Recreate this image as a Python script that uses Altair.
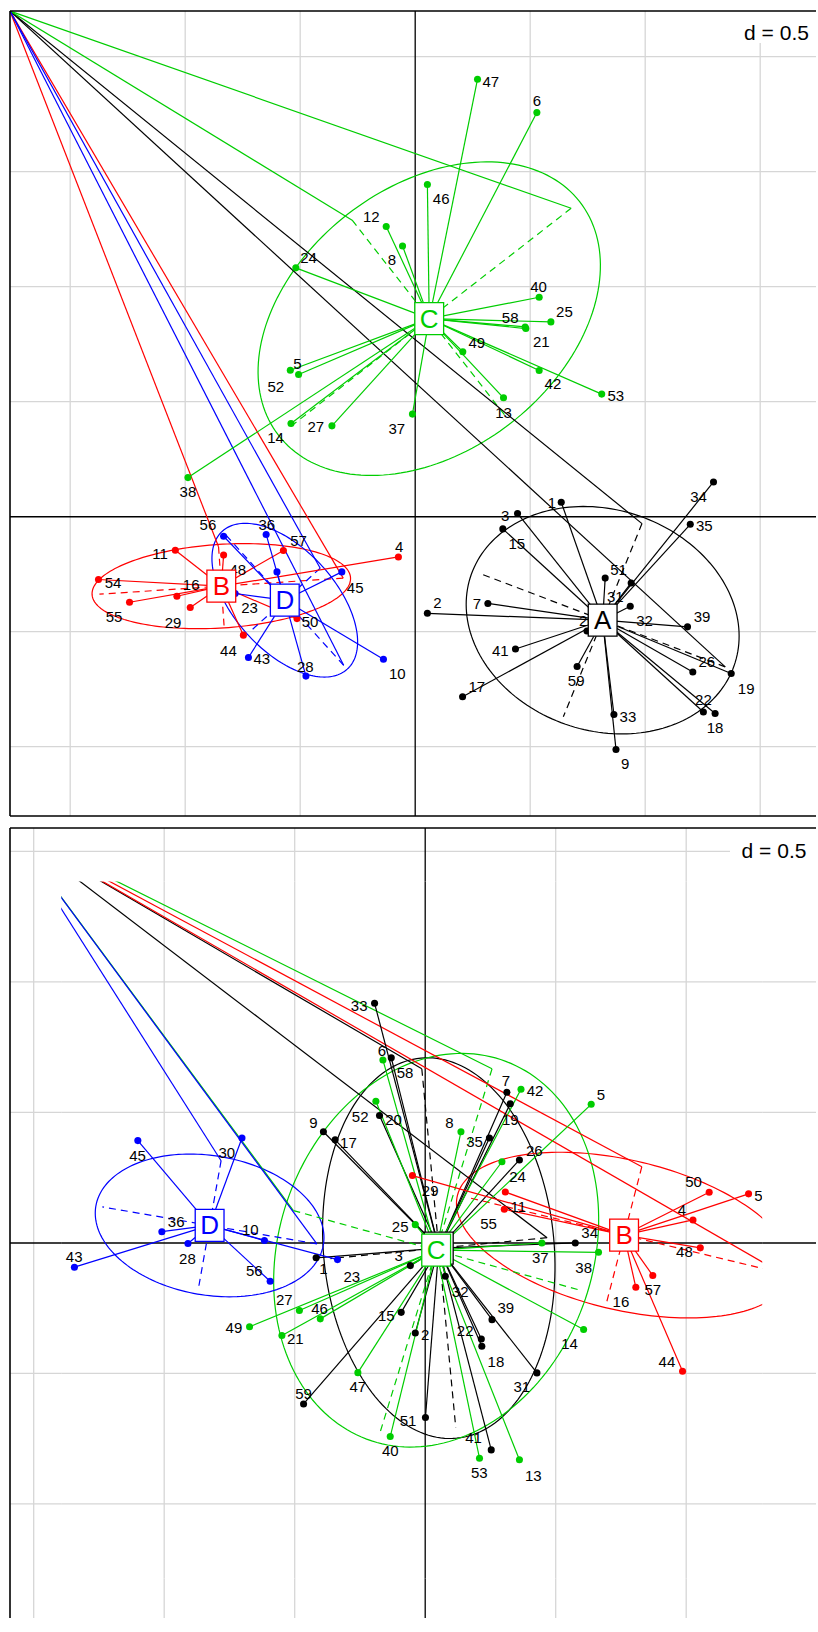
import numpy as np
import pandas as pd
import altair as alt

GROUPS = ["A", "B", "C", "D"]
GROUP_COLORS = ["#000000", "#FF0000", "#00CD00", "#0000FF"]
FONT = "Liberation Sans"
ELLIPSE_SCALE = 1.06
BOX_SHAPE = "M-0.9,-1H0.9V1H-0.9Z"
GRID_COLOR = "#D6D6D6"

# ---------------- upper map ----------------
up_ids = ["47", "6", "46", "12", "8", "24", "40", "25", "58", "21", "49", "42", "53", "13", "5", "52", "14", "27", "37", "38",
          "34", "35", "1", "3", "15", "51", "31", "32", "20", "39", "26", "19", "22", "18", "33", "9", "59", "41", "17", "7", "2",
          "11", "54", "55", "16", "29", "48", "57", "4", "50", "44",
          "56", "36", "30", "45", "10", "28", "43", "23"]
up_group = ["C"] * 20 + ["A"] * 21 + ["B"] * 10 + ["D"] * 8
up_x = [0.271, 0.529, 0.053, -0.126, -0.055, -0.519, 0.539, 0.590, 0.478, 0.481, 0.207, 0.539, 0.811, 0.384, -0.543, -0.507, -0.540, -0.362, -0.012, -0.988,
        1.297, 1.196, 0.635, 0.445, 0.381, 0.826, 0.939, 0.935, 0.747, 1.184, 1.207, 1.374, 1.253, 1.304, 0.864, 0.873, 0.704, 0.436, 0.206, 0.316, 0.053,
        -1.043, -1.377, -1.242, -1.036, -0.978, -0.833, -0.573, -0.073, -0.514, -0.747,
        -0.833, -0.648, -0.601, -0.319, -0.138, -0.475, -0.725, -0.783]
up_y = [1.902, 1.757, 1.444, 1.262, 1.177, 1.082, 0.954, 0.847, 0.825, 0.818, 0.717, 0.636, 0.533, 0.517, 0.637, 0.618, 0.405, 0.395, 0.446, 0.170,
        0.151, -0.033, 0.063, 0.014, -0.053, -0.267, -0.288, -0.389, -0.497, -0.479, -0.675, -0.682, -0.849, -0.856, -0.860, -1.012, -0.651, -0.575, -0.783, -0.377, -0.420,
        -0.146, -0.273, -0.372, -0.346, -0.395, -0.167, -0.147, -0.175, -0.443, -0.515,
        -0.085, -0.077, -0.240, -0.240, -0.620, -0.693, -0.612, -0.334]
up_lab_x = [0.329, 0.529, 0.113, -0.191, -0.101, -0.464, 0.536, 0.649, 0.413, 0.548, 0.268, 0.599, 0.872, 0.384, -0.512, -0.606, -0.607, -0.432, -0.080, -0.988,
            1.232, 1.257, 0.594, 0.391, 0.442, 0.884, 0.870, 0.997, 0.748, 1.247, 1.268, 1.439, 1.253, 1.304, 0.925, 0.913, 0.700, 0.370, 0.268, 0.268, 0.097,
            -1.109, -1.314, -1.309, -0.974, -1.053, -0.771, -0.507, -0.070, -0.457, -0.812,
            -0.901, -0.645, -0.561, -0.261, -0.078, -0.478, -0.667, -0.720]
up_lab_y = [1.890, 1.808, 1.383, 1.303, 1.115, 1.123, 0.998, 0.888, 0.864, 0.760, 0.757, 0.575, 0.525, 0.453, 0.663, 0.564, 0.344, 0.388, 0.380, 0.108,
            0.086, -0.041, 0.060, 0.002, -0.120, -0.230, -0.349, -0.453, -0.454, -0.436, -0.631, -0.747, -0.798, -0.917, -0.873, -1.076, -0.714, -0.586, -0.740, -0.380, -0.377,
            -0.163, -0.290, -0.436, -0.298, -0.462, -0.230, -0.105, -0.131, -0.457, -0.583,
            -0.037, -0.034, -0.328, -0.308, -0.682, -0.653, -0.620, -0.397]
up_center = {"A": (0.815, -0.450), "B": (-0.843, -0.302), "C": (0.061, 0.861), "D": (-0.567, -0.363)}
up_axis1 = {"A": (1.348, -0.653), "B": (-0.313, -0.267), "C": (0.678, 1.341), "D": (-0.311, -0.646)}
up_axis2 = {"A": (0.986, -0.030), "B": (-0.855, -0.131), "C": (-0.274, 1.289), "D": (-0.413, -0.224)}

# ---------------- lower map ----------------
lo_ids = ["33", "58", "20", "9", "17", "7", "19", "35", "26", "34", "1", "3", "15", "2", "59", "51", "41", "22", "18", "39", "31", "32",
          "6", "52", "8", "42", "5", "24", "25", "37", "38", "14", "13", "53", "40", "47", "21", "46", "27", "49",
          "50", "54", "4", "48", "57", "16", "44", "29", "55", "11",
          "45", "30", "36", "28", "10", "56", "43", "23"]
lo_group = ["A"] * 22 + ["C"] * 18 + ["B"] * 10 + ["D"] * 8
lo_x = [-0.194, -0.130, -0.175, -0.390, -0.345, 0.313, 0.326, 0.246, 0.361, 0.575, -0.418, -0.057, -0.092, -0.038, -0.466, 0.001, 0.253, 0.215, 0.217, 0.256, 0.428, 0.077,
        -0.162, -0.189, 0.137, 0.367, 0.636, 0.294, -0.038, 0.447, 0.664, 0.607, 0.361, 0.208, -0.134, -0.258, -0.549, -0.402, -0.482, -0.673,
        1.088, 1.239, 1.026, 1.054, 0.872, 0.807, 0.986, -0.049, 0.307, 0.303,
        -1.101, -0.702, -1.009, -0.909, -0.616, -0.594, -1.344, -0.336]
lo_y = [0.918, 0.709, 0.488, 0.426, 0.395, 0.577, 0.533, 0.402, 0.318, 0.000, -0.057, -0.087, -0.266, -0.345, -0.617, -0.669, -0.793, -0.368, -0.396, -0.294, -0.498, -0.128,
        0.701, 0.543, 0.426, 0.589, 0.531, 0.311, 0.070, 0.000, -0.036, -0.332, -0.831, -0.825, -0.742, -0.497, -0.355, -0.291, -0.259, -0.321,
        0.194, 0.188, 0.088, -0.019, -0.125, -0.170, -0.492, 0.258, 0.195, 0.129,
        0.392, 0.402, 0.043, -0.002, 0.009, -0.147, -0.093, -0.064]
lo_lab_x = [-0.253, -0.077, -0.121, -0.428, -0.294, 0.309, 0.326, 0.189, 0.418, 0.630, -0.390, -0.102, -0.149, 0.000, -0.466, -0.066, 0.185, 0.153, 0.271, 0.309, 0.370, 0.134,
            -0.166, -0.249, 0.093, 0.421, 0.673, 0.354, -0.096, 0.441, 0.607, 0.553, 0.414, 0.207, -0.134, -0.258, -0.498, -0.405, -0.540, -0.733,
            1.028, 1.293, 0.984, 0.993, 0.872, 0.750, 0.926, 0.019, 0.243, 0.357,
            -1.102, -0.760, -0.954, -0.911, -0.670, -0.655, -1.345, -0.281]
lo_lab_y = [0.909, 0.651, 0.471, 0.458, 0.383, 0.619, 0.471, 0.388, 0.354, 0.037, -0.100, -0.049, -0.279, -0.352, -0.579, -0.684, -0.749, -0.336, -0.455, -0.249, -0.553, -0.189,
            0.737, 0.484, 0.460, 0.581, 0.568, 0.251, 0.060, -0.057, -0.097, -0.387, -0.892, -0.883, -0.796, -0.553, -0.368, -0.253, -0.218, -0.326,
            0.232, 0.181, 0.126, -0.036, -0.180, -0.228, -0.456, 0.200, 0.073, 0.136,
            0.334, 0.343, 0.082, -0.061, 0.050, -0.109, -0.055, -0.129]
lo_center = {"A": (0.052, -0.020), "B": (0.762, 0.030), "C": (0.042, -0.028), "D": (-0.826, 0.067)}
lo_axis1 = {"A": (0.467, 0.020), "B": (1.364, -0.115), "C": (0.256, 0.667), "D": (-0.415, -0.004)}
lo_axis2 = {"A": (-0.013, 0.667), "B": (0.830, 0.292), "C": (-0.505, 0.124), "D": (-0.782, 0.315)}

GRID_STEPS = [-1.5, -1.0, -0.5, 0.5, 1.0, 1.5, 2.0]

for seq in (up_group, up_x, up_y, up_lab_x, up_lab_y):
    assert len(seq) == len(up_ids)
for seq in (lo_group, lo_x, lo_y, lo_lab_x, lo_lab_y):
    assert len(seq) == len(lo_ids)


def outside_parts(values, vertical, span, inner):
    """Pieces of grid lines that lie outside the inner data window."""
    ix0, ix1, iyb, iyt = inner
    rows = []
    for v in values:
        if vertical:
            if v <= ix0 or v >= ix1:
                rows.append({"x": v, "y": span[0], "x2": v, "y2": span[1]})
            else:
                rows.append({"x": v, "y": span[0], "x2": v, "y2": iyb})
                rows.append({"x": v, "y": iyt, "x2": v, "y2": span[1]})
        else:
            if v <= iyb or v >= iyt:
                rows.append({"x": span[0], "y": v, "x2": span[1], "y2": v})
            else:
                rows.append({"x": span[0], "y": v, "x2": ix0, "y2": v})
                rows.append({"x": ix1, "y": v, "x2": span[1], "y2": v})
    return pd.DataFrame(rows)


def build_panel(ids, group, xs, ys, lxs, lys, center, axis1, axis2,
                xdom, ydom, width, height, dlabel, inner=None, bottom_frame=True):
    color_scale = alt.Scale(domain=GROUPS, range=GROUP_COLORS)
    corner = (xdom[0], ydom[1])

    def X(f):
        return alt.X(f"{f}:Q", scale=alt.Scale(domain=xdom), axis=None)

    def Y(f):
        return alt.Y(f"{f}:Q", scale=alt.Scale(domain=ydom), axis=None)

    def seg(df, **kw):
        return alt.Chart(df).mark_rule(**kw).encode(
            x=X("x"), y=Y("y"), x2=alt.X2("x2:Q"), y2=alt.Y2("y2:Q"))

    pts = pd.DataFrame({"id": ids, "g": group, "x": xs, "y": ys, "lx": lxs, "ly": lys})
    pts["cx"] = [center[g][0] for g in group]
    pts["cy"] = [center[g][1] for g in group]

    # ellipse outlines, their axes and the stray segments to the corner
    t = np.linspace(0, 2 * np.pi, 181)
    ell_rows, dash_rows, far_rows = [], [], []
    for g in GROUPS:
        cx, cy = center[g]
        ax, ay = axis1[g]
        bx, by = axis2[g]
        ux, uy = ax - cx, ay - cy
        vx, vy = bx - cx, by - cy
        for i, tt in enumerate(t):
            ell_rows.append({"g": g, "i": i,
                             "x": cx + ELLIPSE_SCALE * (np.cos(tt) * ux + np.sin(tt) * vx),
                             "y": cy + ELLIPSE_SCALE * (np.cos(tt) * uy + np.sin(tt) * vy)})
        dash_rows.append({"g": g, "x": ax, "y": ay, "x2": 2 * cx - ax, "y2": 2 * cy - ay})
        dash_rows.append({"g": g, "x": bx, "y": by, "x2": 2 * cx - bx, "y2": 2 * cy - by})
        far_rows.append({"g": g, "x": corner[0], "y": corner[1], "x2": ax, "y2": ay})
        far_rows.append({"g": g, "x": corner[0], "y": corner[1], "x2": bx, "y2": by})
    ell = pd.DataFrame(ell_rows)
    dash = pd.DataFrame(dash_rows)
    far = pd.DataFrame(far_rows)

    gx = [v for v in GRID_STEPS if xdom[0] < v < xdom[1] - 0.01]
    gy = [v for v in GRID_STEPS if ydom[0] < v < ydom[1]]
    grid_v = pd.DataFrame({"x": gx, "x2": gx, "y": ydom[0], "y2": ydom[1]})
    grid_h = pd.DataFrame({"y": gy, "y2": gy, "x": xdom[0], "x2": xdom[1]})
    axis_v = pd.DataFrame({"x": [0.0], "x2": [0.0], "y": [ydom[0]], "y2": [ydom[1]]})
    axis_h = pd.DataFrame({"y": [0.0], "y2": [0.0], "x": [xdom[0]], "x2": [xdom[1]]})
    one = pd.DataFrame({"t": ["d = 0.5"]})

    col = alt.Color("g:N", scale=color_scale, legend=None)
    layers = [
        seg(grid_v, color=GRID_COLOR, strokeWidth=1.3),
        seg(grid_h, color=GRID_COLOR, strokeWidth=1.3),
        seg(axis_v, color="black", strokeWidth=1.3),
        seg(axis_h, color="black", strokeWidth=1.5),
        alt.Chart(ell).mark_line(clip=True, strokeWidth=1.2).encode(
            x=X("x"), y=Y("y"), order="i:Q", detail="g:N", color=col),
        alt.Chart(dash).mark_rule(clip=True, strokeWidth=1.2, strokeDash=[7, 5]).encode(
            x=X("x"), y=Y("y"), x2=alt.X2("x2:Q"), y2=alt.Y2("y2:Q"), color=col),
        alt.Chart(far).mark_rule(clip=True, strokeWidth=1.2).encode(
            x=X("x"), y=Y("y"), x2=alt.X2("x2:Q"), y2=alt.Y2("y2:Q"), color=col),
        alt.Chart(pts).mark_rule(clip=True, strokeWidth=1.2).encode(
            x=X("cx"), y=Y("cy"), x2=alt.X2("x:Q"), y2=alt.Y2("y:Q"), color=col),
        alt.Chart(pts).mark_circle(clip=True, size=50, opacity=1).encode(
            x=X("x"), y=Y("y"), color=col),
        alt.Chart(pts).mark_text(clip=True, font=FONT, fontSize=15, align="center",
                                 baseline="middle", color="black").encode(
            x=X("lx"), y=Y("ly"), text="id:N"),
    ]
    # class boxes, drawn one class after another
    for g, c in zip(GROUPS, GROUP_COLORS):
        cen = pd.DataFrame({"g": [g], "x": [center[g][0]], "y": [center[g][1]]})
        layers.append(alt.Chart(cen).mark_point(
            clip=True, shape=BOX_SHAPE, size=1024, filled=True, fill="white",
            stroke=c, opacity=1, strokeWidth=1.3).encode(x=X("x"), y=Y("y")))
        layers.append(alt.Chart(cen).mark_text(
            clip=True, font=FONT, fontSize=26, align="center", baseline="middle",
            dy=1, color=c).encode(x=X("x"), y=Y("y"), text="g:N"))

    if inner is not None:
        ix0, ix1, iyb, iyt = inner
        masks = pd.DataFrame({
            "x": [xdom[0], ix1, xdom[0], xdom[0]],
            "x2": [ix0, xdom[1], xdom[1], xdom[1]],
            "y": [ydom[0], ydom[0], iyt, ydom[0]],
            "y2": [ydom[1], ydom[1], ydom[1], iyb],
        })
        layers.append(alt.Chart(masks).mark_rect(fill="white", clip=True).encode(
            x=X("x"), x2=alt.X2("x2:Q"), y=Y("y"), y2=alt.Y2("y2:Q")))
        layers.append(seg(outside_parts(gx, True, ydom, inner), color=GRID_COLOR, strokeWidth=1.3))
        layers.append(seg(outside_parts(gy, False, xdom, inner), color=GRID_COLOR, strokeWidth=1.3))
        layers.append(seg(outside_parts([0.0], True, ydom, inner), color="black", strokeWidth=1.3))
        layers.append(seg(outside_parts([0.0], False, xdom, inner), color="black", strokeWidth=1.5))

    layers += [
        alt.Chart(one).mark_rect(fill="white").encode(
            x=alt.value(dlabel[0]), x2=alt.value(dlabel[1]),
            y=alt.value(dlabel[2]), y2=alt.value(dlabel[3])),
        alt.Chart(one).mark_text(font=FONT, fontSize=21, align="center", baseline="alphabetic",
                                 color="black").encode(
            x=alt.value(dlabel[4]), y=alt.value(dlabel[5]), text="t:N"),
        alt.Chart(one).mark_rule(color="black", strokeWidth=1.6).encode(
            x=alt.value(0), y=alt.value(0), y2=alt.value(height)),
        alt.Chart(one).mark_rule(color="black", strokeWidth=1.6).encode(
            y=alt.value(0), x=alt.value(0), x2=alt.value(width)),
    ]
    if bottom_frame:
        layers.append(alt.Chart(one).mark_rule(color="black", strokeWidth=1.6).encode(
            y=alt.value(height), x=alt.value(0), x2=alt.value(width)))
    return alt.layer(*layers).properties(width=width, height=height)


top = build_panel(up_ids, up_group, up_x, up_y, up_lab_x, up_lab_y,
                  up_center, up_axis1, up_axis2,
                  xdom=[-1.7617, 1.7426], ydom=[-1.3013, 2.1987],
                  width=806, height=805,
                  dlabel=(726, 806, 0, 32, 766.5, 28.5))

bottom = build_panel(lo_ids, lo_group, lo_x, lo_y, lo_lab_x, lo_lab_y,
                     lo_center, lo_axis1, lo_axis2,
                     xdom=[-1.5908, 1.4973], ydom=[-1.4371, 1.5897],
                     width=806, height=790,
                     dlabel=(720, 806, 6, 36, 764, 29.5),
                     inner=(-1.3946, 1.2912, -1.2862, 1.3843),
                     bottom_frame=False)

chart = alt.vconcat(top, bottom, spacing=10).properties(
    padding={"left": 9, "top": 10, "right": 0, "bottom": 0},
    background="white",
).configure_view(stroke=None, strokeWidth=0)

chart.save("out.html", embed_options={"renderer": "svg", "actions": False})
